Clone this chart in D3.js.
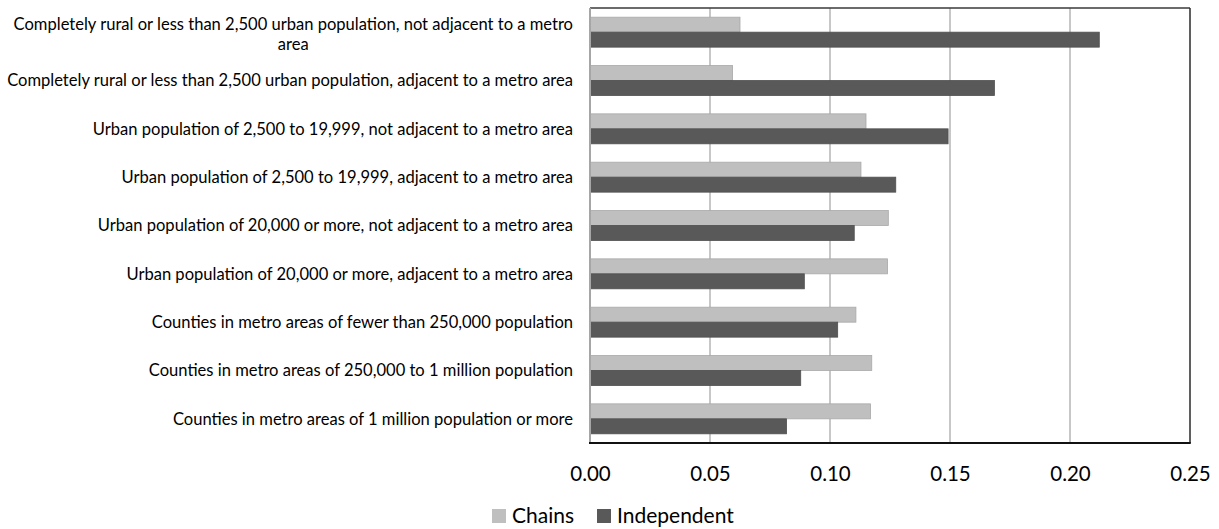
<!DOCTYPE html>
<html>
<head>
<meta charset="utf-8">
<script src="https://cdn.jsdelivr.net/npm/d3@7"></script>
<style>
  html, body { margin: 0; padding: 0; background: #fff; }
  svg { display: block; font-family: Lato, "Open Sans", sans-serif; }
</style>
</head>
<body>
<svg id="chart" width="1219" height="529"></svg>
<script>
// County types, top to bottom
const categories = [
  "Completely rural or less than 2,500 urban population, not adjacent to a metro area",
  "Completely rural or less than 2,500 urban population, adjacent to a metro area",
  "Urban population of 2,500 to 19,999, not adjacent to a metro area",
  "Urban population of 2,500 to 19,999, adjacent to a metro area",
  "Urban population of 20,000 or more, not adjacent to a metro area",
  "Urban population of 20,000 or more, adjacent to a metro area",
  "Counties in metro areas of fewer than 250,000 population",
  "Counties in metro areas of 250,000 to 1 million population",
  "Counties in metro areas of 1 million population or more"
];
const seriesNames = ["Chains", "Independent"];
const chains      = [0.0625, 0.0594, 0.1150, 0.1129, 0.1243, 0.1240, 0.1108, 0.1174, 0.1169];
const independent = [0.2122, 0.1685, 0.1492, 0.1274, 0.1101, 0.0893, 0.1032, 0.0878, 0.0819];
const xTicks = [0, 0.05, 0.10, 0.15, 0.20, 0.25];

const colors = { Chains: "#bfbfbf", Independent: "#595959" };
const strokes = { Chains: "#a9a9a9", Independent: "#4f4f4f" };

const svg = d3.select("#chart");
const plot = { left: 590, right: 1190, top: 8, bottom: 443 };

const x = d3.scaleLinear().domain([0, 0.25]).range([plot.left, plot.right]);
const y = d3.scaleBand().domain(categories).range([plot.top, plot.bottom])
  .paddingInner(0.38).paddingOuter(0.19);
const ySub = d3.scaleBand().domain(seriesNames).range([0, y.bandwidth()]);

const rows = categories.map((c, i) => ({ cat: c, Chains: chains[i], Independent: independent[i] }));

// vertical gridlines
svg.append("g").selectAll("line").data(xTicks.slice(1, -1)).join("line")
  .attr("x1", d => x(d)).attr("x2", d => x(d))
  .attr("y1", plot.top).attr("y2", plot.bottom)
  .attr("stroke", "#b5b5b5").attr("stroke-width", 1.5);

// bars
const groups = svg.append("g").selectAll("g").data(rows).join("g")
  .attr("transform", d => `translate(0,${y(d.cat)})`);
groups.selectAll("rect").data(d => seriesNames.map(s => ({ s, v: d[s] }))).join("rect")
  .attr("x", x(0))
  .attr("y", d => ySub(d.s))
  .attr("width", d => x(d.v) - x(0))
  .attr("height", ySub.bandwidth())
  .attr("fill", d => colors[d.s])
  .attr("stroke", d => strokes[d.s])
  .attr("stroke-width", 0.8);

// plot frame
svg.append("line").attr("x1", plot.left).attr("x2", plot.right).attr("y1", plot.top).attr("y2", plot.top)
  .attr("stroke", "#3a3a3a").attr("stroke-width", 1.5);
svg.append("line").attr("x1", plot.right).attr("x2", plot.right).attr("y1", plot.top).attr("y2", plot.bottom)
  .attr("stroke", "#2a2a2a").attr("stroke-width", 1.5);
svg.append("line").attr("x1", plot.left).attr("x2", plot.left).attr("y1", plot.top).attr("y2", plot.bottom)
  .attr("stroke", "#a6a6a6").attr("stroke-width", 2);
svg.append("line").attr("x1", plot.left - 1).attr("x2", plot.right + 0.75).attr("y1", plot.bottom).attr("y2", plot.bottom)
  .attr("stroke", "#111").attr("stroke-width", 2);

// x axis labels
const xAxis = d3.axisBottom(x).tickValues(xTicks).tickFormat(d3.format(".2f")).tickSize(0).tickPadding(0);
const gx = svg.append("g").attr("transform", `translate(0,${plot.bottom})`).call(xAxis);
gx.select(".domain").remove();
gx.selectAll("text").attr("font-size", 20.5).attr("font-family", "Lato, sans-serif")
  .attr("fill", "#000").attr("dy", null).attr("y", 38);

// category labels: fit font size so the longest single line spans the label area
const labelRight = 573, labelWidth = 566;
const probe = svg.append("text").attr("font-size", 16).text(categories[1]);
const fontSize = 16 * labelWidth / probe.node().getComputedTextLength();
probe.remove();

const measure = svg.append("text").attr("font-size", fontSize);
function textWidth(s) { measure.text(s); return measure.node().getComputedTextLength(); }
function wrap(s, maxW) {
  const words = s.split(" "), lines = [];
  let cur = "";
  words.forEach(w => {
    const t = cur ? cur + " " + w : w;
    if (textWidth(t) > maxW && cur) { lines.push(cur); cur = w; } else cur = t;
  });
  lines.push(cur);
  return lines;
}
const labelG = svg.append("g");
categories.forEach(c => {
  const lines = wrap(c, labelWidth + 4);
  const blockW = d3.max(lines, textWidth);
  const cx = labelRight - blockW / 2;
  const cy = y(c) + y.bandwidth() / 2 + (lines.length > 1 ? 2 : 0);
  const lh = 20;
  const t = labelG.append("text").attr("font-size", fontSize).attr("fill", "#000")
    .attr("text-anchor", "middle");
  lines.forEach((ln, i) => {
    t.append("tspan").attr("x", cx)
      .attr("y", cy + (i - (lines.length - 1) / 2) * lh)
      .attr("dy", "0.35em").text(ln);
  });
});
measure.remove();

// legend
const legend = svg.append("g").attr("font-size", 21).attr("fill", "#000");
const legendItems = [{ s: "Chains", x: 492 }, { s: "Independent", x: 597 }];
legendItems.forEach(it => {
  legend.append("rect").attr("x", it.x).attr("y", 509).attr("width", 14).attr("height", 14)
    .attr("fill", colors[it.s]);
  legend.append("text").attr("x", it.x + 20).attr("y", 516).attr("dy", "0.35em").text(it.s);
});
</script>
</body>
</html>
